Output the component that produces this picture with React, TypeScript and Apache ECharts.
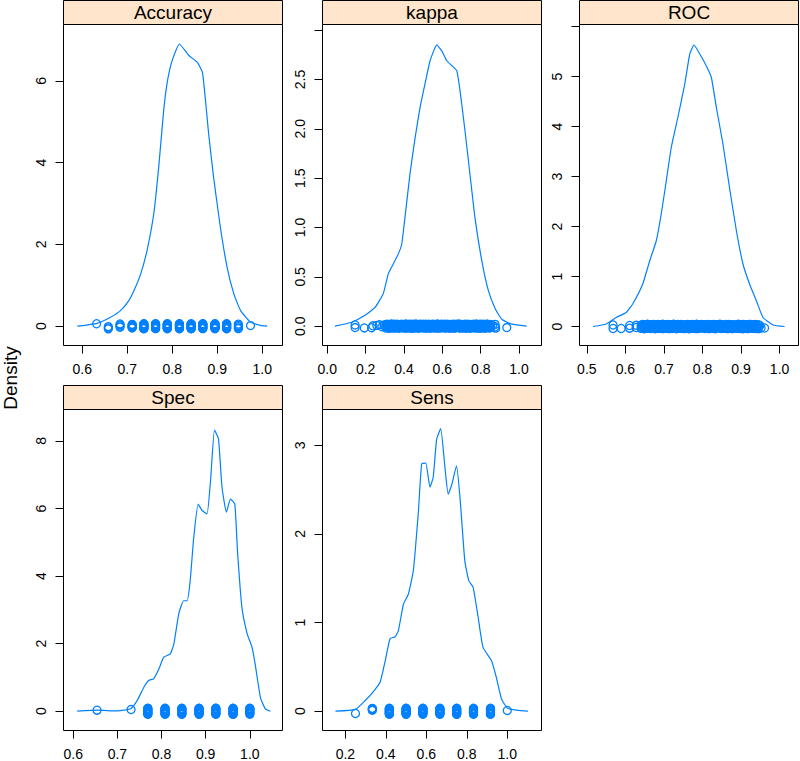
import React, { useEffect, useRef } from 'react';
import * as echarts from 'echarts';

const BLUE = '#0080ff';
const FONT = "'Liberation Sans', Arial, Helvetica, sans-serif";

const panelNames = ['Accuracy', 'kappa', 'ROC', 'Spec', 'Sens'];

// ---- density curves (x, density) ----
const accuracyDensityX = [0.589, 0.633, 0.663, 0.685, 0.704, 0.715, 0.730, 0.744, 0.759, 0.770, 0.781, 0.789, 0.800, 0.816, 0.837, 0.856, 0.867, 0.874, 0.881, 0.892, 0.907, 0.922, 0.937, 0.952, 0.974, 0.996, 1.011];
const accuracyDensityY = [0, 0.07, 0.22, 0.38, 0.63, 0.87, 1.28, 1.85, 2.75, 3.89, 5.27, 5.97, 6.5, 6.9, 6.62, 6.45, 6.21, 5.52, 4.70, 3.64, 2.42, 1.44, 0.79, 0.38, 0.10, 0.02, 0];

const kappaDensityX = [0.040, 0.127, 0.197, 0.249, 0.292, 0.318, 0.344, 0.370, 0.388, 0.405, 0.431, 0.458, 0.484, 0.510, 0.536, 0.571, 0.597, 0.623, 0.649, 0.675, 0.692, 0.718, 0.744, 0.770, 0.805, 0.840, 0.875, 0.910, 0.962, 1.040];
const kappaDensityY = [0, 0.04, 0.11, 0.19, 0.33, 0.53, 0.63, 0.73, 0.83, 1.10, 1.54, 1.91, 2.22, 2.46, 2.69, 2.85, 2.79, 2.69, 2.64, 2.59, 2.39, 1.98, 1.54, 1.10, 0.67, 0.36, 0.18, 0.07, 0.02, 0];

const rocDensityX = [0.516, 0.550, 0.576, 0.602, 0.619, 0.645, 0.663, 0.680, 0.693, 0.706, 0.719, 0.736, 0.754, 0.767, 0.778, 0.793, 0.810, 0.823, 0.836, 0.853, 0.870, 0.888, 0.905, 0.922, 0.940, 0.957, 0.983, 1.013];
const rocDensityY = [0, 0.05, 0.18, 0.28, 0.45, 0.85, 1.31, 1.71, 2.25, 2.91, 3.58, 4.18, 4.85, 5.45, 5.63, 5.45, 5.21, 4.98, 4.38, 3.65, 2.78, 1.91, 1.25, 0.85, 0.51, 0.18, 0.03, 0];

const specDensityX = [0.609, 0.654, 0.700, 0.730, 0.745, 0.760, 0.771, 0.782, 0.794, 0.805, 0.820, 0.828, 0.839, 0.850, 0.858, 0.865, 0.873, 0.883, 0.892, 0.903, 0.911, 0.920, 0.929, 0.937, 0.947, 0.956, 0.966, 0.972, 0.982, 0.994, 1.005, 1.012, 1.024, 1.035, 1.047];
const specDensityY = [0, 0.03, 0.01, 0.07, 0.32, 0.71, 0.91, 0.96, 1.25, 1.60, 1.70, 1.99, 2.88, 3.27, 3.27, 3.87, 5.15, 6.13, 5.94, 5.84, 6.82, 8.32, 8.06, 6.63, 5.89, 6.28, 6.13, 4.75, 3.08, 2.29, 1.89, 1.40, 0.41, 0.07, 0];

const sensDensityX = [0.151, 0.249, 0.298, 0.331, 0.372, 0.397, 0.421, 0.446, 0.462, 0.487, 0.511, 0.536, 0.561, 0.577, 0.597, 0.618, 0.634, 0.651, 0.671, 0.692, 0.708, 0.725, 0.749, 0.766, 0.790, 0.810, 0.831, 0.856, 0.880, 0.922, 0.946, 0.971, 1.003, 1.102];
const sensDensityY = [0, 0.02, 0.12, 0.20, 0.33, 0.57, 0.82, 0.84, 0.91, 1.21, 1.32, 1.59, 2.26, 2.79, 2.80, 2.53, 2.64, 3.07, 3.19, 2.75, 2.45, 2.55, 2.77, 2.42, 1.70, 1.47, 1.40, 1.06, 0.72, 0.57, 0.38, 0.14, 0.03, 0];

// ---- rug points: value levels, each with the jittered heights of its points ----
const accuracyPointLevels = [0.632, 0.658, 0.684, 0.711, 0.737, 0.763, 0.789, 0.816, 0.842, 0.868, 0.895, 0.921, 0.947, 0.974];
const accuracyPointJitter = [
  [0.06],
  [-0.01, -0.04, -0.065],
  [0.055, 0.03, 0.005, -0.025],
  [-0.045, -0.03, -0.012, 0.0, 0.015, 0.03, 0.045, -0.02],
  [-0.062, -0.05, -0.035, -0.022, -0.008, 0.006, 0.02, 0.034, 0.048, 0.062, -0.056, 0.055],
  [-0.06, -0.047, -0.032, -0.018, -0.004, 0.01, 0.024, 0.038, 0.052, 0.062, 0.043, -0.054],
  [-0.062, -0.052, -0.038, -0.024, -0.01, 0.004, 0.018, 0.03, 0.045, 0.058, -0.044, 0.062],
  [-0.058, -0.045, -0.03, -0.016, -0.002, 0.012, 0.026, 0.04, 0.053, 0.062, -0.062, 0.035],
  [-0.062, -0.049, -0.036, -0.021, -0.007, 0.008, 0.021, 0.036, 0.05, 0.061, -0.055, 0.045],
  [-0.06, -0.046, -0.033, -0.019, -0.005, 0.009, 0.023, 0.037, 0.051, 0.062, 0.056, -0.052],
  [-0.062, -0.05, -0.034, -0.02, -0.006, 0.007, 0.022, 0.035, 0.049, 0.06, -0.043, 0.055],
  [-0.058, -0.044, -0.03, -0.015, 0.0, 0.014, 0.028, 0.042, 0.055, 0.062, -0.062],
  [0.05, 0.02, -0.01, -0.04, -0.06],
  [0.015],
];

const specPointLevels = [0.654, 0.731, 0.769, 0.808, 0.846, 0.885, 0.923, 0.962, 1.0];
const specPointJitter = [
  [0.03],
  [0.05],
  [-0.09, -0.075, -0.055, -0.035, -0.015, 0.005, 0.025, 0.045, 0.065, 0.085, -0.082, 0.09],
  [-0.088, -0.07, -0.05, -0.03, -0.01, 0.01, 0.03, 0.05, 0.07, 0.09, 0.08, -0.08],
  [-0.09, -0.072, -0.052, -0.032, -0.012, 0.008, 0.028, 0.048, 0.068, 0.088, -0.084, 0.078],
  [-0.086, -0.068, -0.048, -0.028, -0.008, 0.012, 0.032, 0.052, 0.072, 0.09, -0.09, 0.082],
  [-0.09, -0.074, -0.054, -0.034, -0.014, 0.006, 0.026, 0.046, 0.066, 0.086, 0.09, -0.08],
  [-0.087, -0.07, -0.05, -0.03, -0.01, 0.01, 0.03, 0.05, 0.07, 0.09, -0.09, 0.08],
  [-0.09, -0.07, -0.048, -0.026, -0.004, 0.018, 0.04, 0.062, 0.082, 0.09],
];

const sensPointLevels = [0.25, 0.333, 0.417, 0.5, 0.583, 0.667, 0.75, 0.833, 0.917, 1.0];
const sensPointJitter = [
  [-0.026],
  [0.01, 0.018, 0.026, 0.032],
  [-0.034, -0.027, -0.02, -0.013, -0.006, 0.001, 0.008, 0.015, 0.022, 0.029, 0.034, -0.031],
  [-0.033, -0.026, -0.019, -0.012, -0.005, 0.002, 0.009, 0.016, 0.023, 0.03, 0.034, -0.034],
  [-0.034, -0.028, -0.021, -0.014, -0.007, 0.0, 0.007, 0.014, 0.021, 0.028, 0.034, 0.031],
  [-0.034, -0.027, -0.02, -0.013, -0.006, 0.001, 0.008, 0.015, 0.022, 0.029, 0.034, -0.031],
  [-0.033, -0.026, -0.019, -0.012, -0.005, 0.002, 0.009, 0.016, 0.023, 0.03, 0.034, -0.034],
  [-0.034, -0.028, -0.021, -0.014, -0.007, 0.0, 0.007, 0.014, 0.021, 0.028, 0.034],
  [-0.032, -0.024, -0.016, -0.008, 0.002, 0.01, 0.018, 0.026, 0.034, -0.034],
  [0.008],
];

// kappa: isolated points, then dense rows of [value, jitter, jitter, jitter]
const kappaSparsePoints = [
  [0.145, 0.012], [0.145, -0.014], [0.193, -0.018], [0.231, -0.016], [0.238, 0.004], [0.258, 0.008], [0.272, 0.014], [0.285, -0.006], [0.296, 0.012],
  [0.862, 0.008], [0.875, 0.018], [0.875, -0.006], [0.878, -0.02], [0.936, -0.014],
];
const kappaDenseRows = [
  [0.305, 0.014, -0.003, -0.019], [0.312, 0.021, 0.005, -0.012], [0.320, 0.008, -0.009, -0.022], [0.327, 0.018, 0.001, -0.016],
  [0.335, 0.022, -0.006, -0.018], [0.342, 0.011, -0.011, 0.003], [0.350, 0.019, 0.007, -0.020], [0.357, 0.015, -0.001, -0.013],
  [0.365, 0.021, 0.004, -0.010], [0.372, 0.009, -0.007, -0.022], [0.380, 0.016, 0.000, -0.016], [0.387, 0.020, 0.008, -0.011],
  [0.395, 0.012, -0.004, -0.019], [0.402, 0.018, 0.003, -0.014], [0.410, 0.022, -0.008, -0.021], [0.417, 0.007, -0.012, 0.013],
  [0.425, 0.017, 0.005, -0.018], [0.432, 0.021, -0.002, -0.013], [0.440, 0.010, -0.009, -0.021], [0.447, 0.019, 0.001, -0.015],
  [0.455, 0.014, -0.005, -0.020], [0.462, 0.022, 0.007, -0.010], [0.470, 0.011, -0.003, -0.017], [0.477, 0.017, 0.004, -0.022],
  [0.485, 0.008, -0.011, 0.020], [0.492, 0.015, -0.001, -0.015], [0.500, 0.021, 0.006, -0.019], [0.507, 0.013, -0.007, -0.012],
  [0.515, 0.019, 0.002, -0.021], [0.522, 0.009, -0.005, -0.017], [0.530, 0.020, 0.009, -0.013], [0.537, 0.016, -0.003, -0.022],
  [0.545, 0.007, -0.010, 0.017], [0.552, 0.021, 0.003, -0.016], [0.560, 0.013, -0.006, -0.019], [0.567, 0.018, 0.001, -0.011],
  [0.575, 0.022, 0.007, -0.021], [0.582, 0.011, -0.009, -0.015], [0.590, 0.017, 0.005, -0.018], [0.597, 0.020, -0.004, -0.013],
  [0.605, 0.009, -0.011, 0.015], [0.612, 0.019, 0.003, -0.020], [0.620, 0.015, -0.007, -0.017], [0.627, 0.021, 0.008, -0.011],
  [0.635, 0.012, -0.002, -0.021], [0.642, 0.017, 0.005, -0.014], [0.650, 0.007, -0.009, -0.019], [0.657, 0.021, 0.001, -0.016],
  [0.665, 0.015, -0.005, -0.022], [0.672, 0.019, 0.007, -0.012], [0.680, 0.010, -0.008, 0.018], [0.687, 0.022, 0.003, -0.017],
  [0.695, 0.013, -0.003, -0.020], [0.702, 0.018, 0.006, -0.013], [0.710, 0.008, -0.011, -0.019], [0.717, 0.020, 0.001, -0.015],
  [0.725, 0.016, -0.006, -0.021], [0.732, 0.021, 0.009, -0.011], [0.740, 0.011, -0.003, -0.018], [0.747, 0.017, 0.004, -0.021],
  [0.755, 0.009, -0.009, 0.014], [0.762, 0.019, 0.002, -0.015], [0.770, 0.014, -0.005, -0.019], [0.777, 0.022, 0.007, -0.013],
  [0.785, 0.011, -0.001, -0.020], [0.792, 0.017, 0.005, -0.016], [0.800, 0.021, -0.007, -0.022], [0.807, 0.013, 0.001, -0.012],
  [0.815, 0.019, -0.004, -0.017], [0.822, 0.008, 0.007, -0.021], [0.830, 0.016, -0.010, 0.020], [0.837, 0.020, 0.003, -0.015],
  [0.845, 0.012, -0.006, -0.019], [0.852, 0.017, 0.000, -0.013],
];

// ROC: isolated points, then dense rows of [value, jitter, jitter, jitter]
const rocSparsePoints = [
  [0.568, 0.03], [0.568, -0.04], [0.589, -0.04], [0.611, 0.02], [0.611, -0.034], [0.628, 0.024], [0.628, -0.02],
  [0.949, 0.02], [0.952, -0.03], [0.961, -0.03],
];
const rocDenseRows = [
  [0.641, 0.028, -0.006, -0.038], [0.645, 0.042, 0.010, -0.024], [0.649, 0.016, -0.018, -0.044], [0.653, 0.036, 0.002, -0.032],
  [0.657, 0.044, -0.012, -0.036], [0.661, 0.022, -0.022, 0.006], [0.665, 0.038, 0.014, -0.040], [0.669, 0.030, -0.002, -0.026],
  [0.673, 0.042, 0.008, -0.020], [0.677, 0.018, -0.014, -0.044], [0.681, 0.032, 0.000, -0.032], [0.685, 0.040, 0.016, -0.022],
  [0.689, 0.024, -0.008, -0.038], [0.693, 0.036, 0.006, -0.028], [0.697, 0.044, -0.016, -0.042], [0.701, 0.014, -0.024, 0.026],
  [0.705, 0.034, 0.010, -0.036], [0.709, 0.042, -0.004, -0.026], [0.713, 0.020, -0.018, -0.042], [0.717, 0.038, 0.002, -0.030],
  [0.721, 0.028, -0.010, -0.040], [0.725, 0.044, 0.014, -0.020], [0.729, 0.022, -0.006, -0.034], [0.733, 0.034, 0.008, -0.044],
  [0.737, 0.016, -0.022, 0.040], [0.741, 0.030, -0.002, -0.030], [0.745, 0.042, 0.012, -0.038], [0.749, 0.026, -0.014, -0.024],
  [0.753, 0.038, 0.004, -0.042], [0.757, 0.018, -0.010, -0.034], [0.761, 0.040, 0.018, -0.026], [0.765, 0.032, -0.006, -0.044],
  [0.769, 0.014, -0.020, 0.034], [0.773, 0.042, 0.006, -0.032], [0.777, 0.026, -0.012, -0.038], [0.781, 0.036, 0.002, -0.022],
  [0.785, 0.044, 0.014, -0.042], [0.789, 0.022, -0.018, -0.030], [0.793, 0.034, 0.010, -0.036], [0.797, 0.040, -0.008, -0.026],
  [0.801, 0.018, -0.022, 0.030], [0.805, 0.038, 0.006, -0.040], [0.809, 0.030, -0.014, -0.034], [0.813, 0.042, 0.016, -0.022],
  [0.817, 0.024, -0.004, -0.042], [0.821, 0.034, 0.010, -0.028], [0.825, 0.014, -0.018, -0.038], [0.829, 0.042, 0.002, -0.032],
  [0.833, 0.030, -0.010, -0.044], [0.837, 0.038, 0.014, -0.024], [0.841, 0.020, -0.016, 0.036], [0.845, 0.044, 0.006, -0.034],
  [0.849, 0.026, -0.006, -0.040], [0.853, 0.036, 0.012, -0.026], [0.857, 0.016, -0.022, -0.038], [0.861, 0.040, 0.002, -0.030],
  [0.865, 0.032, -0.012, -0.042], [0.869, 0.042, 0.018, -0.022], [0.873, 0.022, -0.006, -0.036], [0.877, 0.034, 0.008, -0.042],
  [0.881, 0.018, -0.018, 0.028], [0.885, 0.038, 0.004, -0.030], [0.889, 0.028, -0.010, -0.038], [0.893, 0.044, 0.014, -0.026],
  [0.897, 0.022, -0.002, -0.040], [0.901, 0.034, 0.010, -0.032], [0.905, 0.042, -0.014, -0.044], [0.909, 0.026, 0.002, -0.024],
  [0.913, 0.038, -0.008, -0.034], [0.917, 0.016, 0.014, -0.042], [0.921, 0.032, -0.020, 0.040], [0.925, 0.040, 0.006, -0.030],
  [0.929, 0.024, -0.012, -0.038], [0.933, 0.034, 0.000, -0.026], [0.937, 0.042, -0.016, -0.040], [0.941, 0.020, 0.010, -0.032],
  [0.945, 0.036, -0.006, -0.042],
];

// ---- tick values ----
const accuracyXTicks = [0.6, 0.7, 0.8, 0.9, 1.0];
const accuracyYTicks = [0, 2, 4, 6];
const kappaXTicks = [0.0, 0.2, 0.4, 0.6, 0.8, 1.0];
const kappaYTicks = [0.0, 0.5, 1.0, 1.5, 2.0, 2.5, 3.0];
const kappaYLabels = [0.0, 0.5, 1.0, 1.5, 2.0, 2.5];
const rocXTicks = [0.5, 0.6, 0.7, 0.8, 0.9, 1.0];
const rocYTicks = [0, 1, 2, 3, 4, 5, 6];
const rocYLabels = [0, 1, 2, 3, 4, 5];
const specXTicks = [0.6, 0.7, 0.8, 0.9, 1.0];
const specYTicks = [0, 2, 4, 6, 8];
const sensXTicks = [0.2, 0.4, 0.6, 0.8, 1.0];
const sensYTicks = [0, 1, 2, 3];

const levelsToPoints = (levels: number[], jitter: number[][]) =>
  levels.flatMap((x, i) => jitter[i].map((j) => [x, j]));
const rowsToPoints = (rows: number[][]) =>
  rows.flatMap((r) => r.slice(1).map((j) => [r[0], j]));

export default function App() {
  const ref = useRef<HTMLDivElement>(null);

  useEffect(() => {
    if (!ref.current) return;
    const chart = echarts.init(ref.current, null, { renderer: 'svg' });

    const panels = [
      { curveX: accuracyDensityX, curveY: accuracyDensityY, points: levelsToPoints(accuracyPointLevels, accuracyPointJitter),
        xTicks: accuracyXTicks, yTicks: accuracyYTicks, yLabels: accuracyYTicks, yDec: 0,
        left: 63.5, top: 24.5, width: 219, height: 321, xMin: 0.5584, xMax: 1.0451, yMin: -0.472, yMax: 7.377 },
      { curveX: kappaDensityX, curveY: kappaDensityY, points: [...kappaSparsePoints, ...rowsToPoints(kappaDenseRows)],
        xTicks: kappaXTicks, yTicks: kappaYTicks, yLabels: kappaYLabels, yDec: 1,
        left: 322.5, top: 24.5, width: 219, height: 321, xMin: -0.025, xMax: 1.117, yMin: -0.196, yMax: 3.057 },
      { curveX: rocDensityX, curveY: rocDensityY, points: [...rocSparsePoints, ...rowsToPoints(rocDenseRows)],
        xTicks: rocXTicks, yTicks: rocYTicks, yLabels: rocYLabels, yDec: 0,
        left: 579.5, top: 24.5, width: 219, height: 321, xMin: 0.481, xMax: 1.049, yMin: -0.38, yMax: 6.04 },
      { curveX: specDensityX, curveY: specDensityY, points: levelsToPoints(specPointLevels, specPointJitter),
        xTicks: specXTicks, yTicks: specYTicks, yLabels: specYTicks, yDec: 0,
        left: 63.5, top: 409.5, width: 219, height: 321, xMin: 0.578, xMax: 1.074, yMin: -0.571, yMax: 8.93 },
      { curveX: sensDensityX, curveY: sensDensityY, points: levelsToPoints(sensPointLevels, sensPointJitter),
        xTicks: sensXTicks, yTicks: sensYTicks, yLabels: sensYTicks, yDec: 0,
        left: 322.5, top: 409.5, width: 219, height: 321, xMin: 0.087, xMax: 1.169, yMin: -0.218, yMax: 3.405 },
    ];

    const grids = panels.map((p) => ({
      left: p.left, top: p.top, width: p.width, height: p.height,
      show: true, borderColor: '#000', borderWidth: 1, backgroundColor: 'transparent',
      containLabel: false,
    }));

    const xAxes = panels.map((p, i) => ({
      type: 'value', gridIndex: i, min: p.xMin, max: p.xMax, position: 'bottom',
      axisLine: { show: false, onZero: false }, splitLine: { show: false },
      axisTick: { show: true, length: 8, customValues: p.xTicks, lineStyle: { color: '#000', width: 1 } },
      axisLabel: {
        show: true, customValues: p.xTicks, margin: 16, fontSize: 14, fontFamily: FONT, color: '#000',
        formatter: (v: number) => v.toFixed(1),
      },
    }));

    const yAxes = panels.map((p, i) => ({
      type: 'value', gridIndex: i, min: p.yMin, max: p.yMax, position: 'left',
      axisLine: { show: false, onZero: false }, splitLine: { show: false },
      axisTick: { show: true, length: 8, customValues: p.yTicks, lineStyle: { color: '#000', width: 1 } },
      axisLabel: {
        show: true, customValues: p.yLabels, margin: 16, rotate: 90, fontSize: 14, fontFamily: FONT, color: '#000',
        formatter: (v: number) => v.toFixed(p.yDec),
      },
    }));

    const series: any[] = [];
    panels.forEach((p, i) => {
      series.push({
        type: 'line', xAxisIndex: i, yAxisIndex: i, silent: true,
        data: p.curveX.map((x, k) => [x, p.curveY[k]]),
        symbol: 'none', showSymbol: false, smooth: 0.15,
        lineStyle: { color: BLUE, width: 1.2 },
      });
      series.push({
        type: 'scatter', xAxisIndex: i, yAxisIndex: i, silent: true,
        data: p.points, symbol: 'circle', symbolSize: 8,
        itemStyle: { color: 'rgba(0,0,0,0)', borderColor: BLUE, borderWidth: 1.3, opacity: 1 },
      });
    });

    const graphics: any[] = [];
    panels.forEach((p, i) => {
      graphics.push({
        type: 'rect', silent: true, z: 10,
        shape: { x: p.left, y: p.top - 24, width: p.width, height: 24 },
        style: { fill: '#FFE5CC', stroke: '#000', lineWidth: 1 },
      });
      graphics.push({
        type: 'text', silent: true, z: 11,
        x: p.left + p.width / 2, y: p.top - 12,
        style: {
          text: panelNames[i], fontSize: 19, fontFamily: FONT, fill: '#000',
          align: 'center', verticalAlign: 'middle', textAlign: 'center', textVerticalAlign: 'middle',
        },
      });
    });
    graphics.push({
      type: 'text', silent: true, x: 10, y: 378, rotation: Math.PI / 2,
      style: {
        text: 'Density', fontSize: 19, fontFamily: FONT, fill: '#000',
        align: 'center', verticalAlign: 'middle', textAlign: 'center', textVerticalAlign: 'middle',
      },
    });

    chart.setOption({
      animation: false,
      backgroundColor: '#fff',
      grid: grids,
      xAxis: xAxes,
      yAxis: yAxes,
      series,
      graphic: { elements: graphics },
    });

    return () => chart.dispose();
  }, []);

  return (
    <div
      ref={ref}
      style={{ position: 'absolute', left: 0, top: 0, width: 800, height: 761, background: '#fff' }}
    />
  );
}
